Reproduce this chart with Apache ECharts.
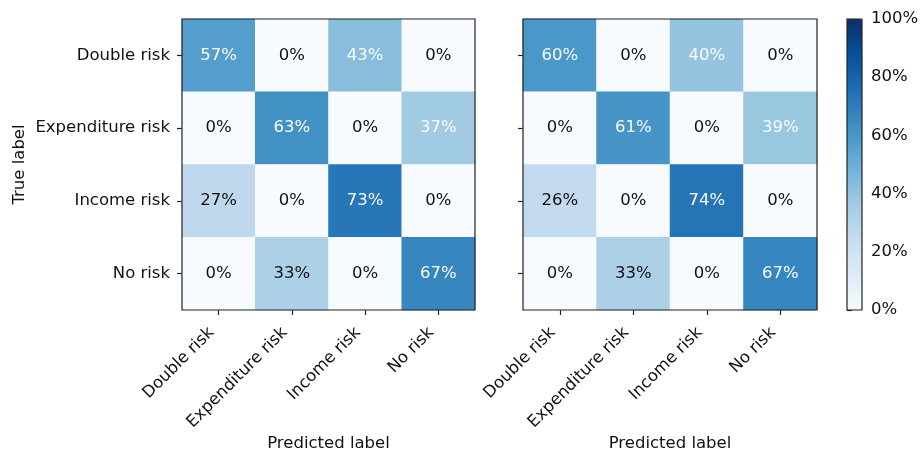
<!DOCTYPE html>
<html>
<head>
<meta charset="utf-8">
<script src="https://cdn.jsdelivr.net/npm/echarts@6/dist/echarts.min.js"></script>
<style>
  html, body { margin:0; padding:0; background:#fff; }
  #main { width:922px; height:452px; }
</style>
</head>
<body>
<div id="main"></div>
<script>
// class labels (same order on both axes)
const labels = ['Double risk', 'Expenditure risk', 'Income risk', 'No risk'];

// confusion matrices in percent, rows = true label, cols = predicted label
const leftRows = [
  [57, 0, 43, 0],
  [0, 63, 0, 37],
  [27, 0, 73, 0],
  [0, 33, 0, 67]
];
const rightRows = [
  [60, 0, 40, 0],
  [0, 61, 0, 39],
  [26, 0, 74, 0],
  [0, 33, 0, 67]
];

// colorbar ticks
const cbarMin = 0, cbarMax = 100, cbarStep = 20;

// matplotlib "Blues"
const blues = ['#f7fbff','#deebf7','#c6dbef','#9ecae1','#6baed6','#4292c6','#2171b5','#08519c','#08306b'];

const font = 'DejaVu Sans';
const fs = 16.5;
const whiteAbove = 35;

function toCells(rows) {
  let out = [];
  rows.forEach((r, yi) => r.forEach((v, xi) => out.push([xi, yi, v])));
  return out;
}

function catX(gi) {
  return {
    type: 'category', gridIndex: gi, data: labels, position: 'bottom',
    axisLine: { show: false },
    axisTick: { show: true, alignWithLabel: true, length: 5, lineStyle: { color: '#222', width: 1.2 } },
    axisLabel: { rotate: 45, margin: 13, padding: [0, 10, 0, 0], color: '#111', fontFamily: font, fontSize: fs },
    splitLine: { show: false },
    name: 'Predicted label', nameLocation: 'middle', nameGap: 125, nameMoveOverlap: false,
    nameTextStyle: { color: '#111', fontFamily: font, fontSize: fs }
  };
}

function catY(gi, showLabels, name) {
  return {
    type: 'category', gridIndex: gi, data: labels, inverse: true,
    axisLine: { show: false },
    axisTick: { show: true, alignWithLabel: true, length: 5, lineStyle: { color: '#222', width: 1.2 } },
    axisLabel: { show: showLabels, margin: 12, color: '#111', fontFamily: font, fontSize: fs },
    splitLine: { show: false },
    name: name, nameLocation: 'middle', nameGap: 154, nameMoveOverlap: false,
    nameTextStyle: { color: '#111', fontFamily: font, fontSize: fs }
  };
}

function heat(gi, rows) {
  return {
    type: 'heatmap', xAxisIndex: gi, yAxisIndex: gi,
    data: toCells(rows),
    itemStyle: { borderWidth: 0 },
    emphasis: { disabled: true },
    label: {
      show: true, fontFamily: font, fontSize: fs,
      formatter: p => (p.value[2] > whiteAbove ? '{w|' : '{b|') + p.value[2] + '%}',
      rich: {
        w: { color: '#fafafa', fontFamily: font, fontSize: fs },
        b: { color: '#111', fontFamily: font, fontSize: fs }
      }
    }
  };
}

const frame = {
  show: true, z: 10, backgroundColor: 'transparent', borderColor: '#222', borderWidth: 1.2,
  containLabel: false, outerBoundsMode: 'none'
};

const chart = echarts.init(document.getElementById('main'));
chart.setOption({
  animation: false,
  backgroundColor: '#fff',
  grid: [
    Object.assign({ left: 182, top: 19, width: 293, height: 291 }, frame),
    Object.assign({ left: 523, top: 19, width: 294, height: 291 }, frame),
    Object.assign({ left: 847, top: 19, width: 15, height: 291 }, frame)
  ],
  xAxis: [
    catX(0),
    catX(1),
    { type: 'value', gridIndex: 2, show: false, min: 0, max: 1 }
  ],
  yAxis: [
    catY(0, true, 'True label'),
    catY(1, false, ''),
    {
      type: 'value', gridIndex: 2, position: 'right',
      min: cbarMin, max: cbarMax, interval: cbarStep,
      axisLine: { show: false },
      axisTick: { show: true, length: 5, lineStyle: { color: '#222', width: 1.2 } },
      axisLabel: { margin: 9, color: '#111', fontFamily: font, fontSize: fs, formatter: '{value}%' },
      splitLine: { show: false }
    }
  ],
  visualMap: {
    type: 'continuous', min: cbarMin, max: cbarMax,
    seriesIndex: [0, 1], calculable: false, hoverLink: false,
    orient: 'vertical', left: 847, top: 19, padding: 0,
    itemWidth: 15, itemHeight: 291, text: null, showLabel: false,
    inRange: { color: blues }
  },
  series: [heat(0, leftRows), heat(1, rightRows)]
});
</script>
</body>
</html>
